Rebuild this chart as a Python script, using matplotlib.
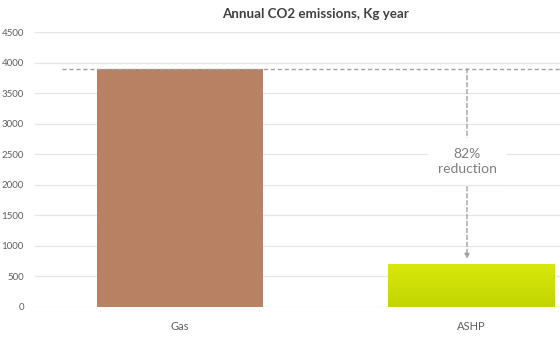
import matplotlib
matplotlib.use("Agg")
import matplotlib.pyplot as plt
from matplotlib.colors import LinearSegmentedColormap
import numpy as np

plt.rcParams['font.family'] = ['Lato', 'DejaVu Sans']

categories = ["Gas", "ASHP"]
emissions = [3900, 700]
reduction_label = "82%\nreduction"
yticks = [0, 500, 1000, 1500, 2000, 2500, 3000, 3500, 4000, 4500]

fig = plt.figure(figsize=(5.6, 3.37), dpi=100)
ax = fig.add_axes([35 / 560, 30 / 337, 525 / 560, 275 / 337])

x = np.arange(len(categories))
bars = ax.bar(x, emissions, width=0.57, color=["#b98163", "#cde000"], zorder=2)

# vertical gradient on the ASHP bar
grad = np.linspace(0, 1, 100).reshape(-1, 1)
cmap = LinearSegmentedColormap.from_list("g", ["#c3d500", "#d6e80c"])
b = bars[1]
im = ax.imshow(grad, cmap=cmap, origin="lower", aspect="auto",
               extent=[b.get_x(), b.get_x() + b.get_width(), 0, b.get_height()],
               zorder=3)
im.set_clip_path(b)

ax.set_xlim(-0.497, 1.304)
ax.set_ylim(0, 4500)
ax.set_yticks(yticks)
ax.set_xticks(x)
ax.set_xticklabels(categories)
ax.grid(axis="y", color="#e6e6e6", linewidth=0.9, zorder=0)
ax.set_axisbelow(True)
for s in ax.spines.values():
    s.set_visible(False)
ax.tick_params(axis="y", length=0, pad=8, labelsize=7, labelcolor="#606060")
ax.tick_params(axis="x", length=0, pad=10, labelsize=8, labelcolor="#606060")

# reference line at Gas level
ax.plot([-0.405, 1.304], [emissions[0], emissions[0]], ls=(0, (3, 2)),
        color="#a0a0a0", lw=1, zorder=4, clip_on=False)

# reduction arrow
ax_x = 0.985
ax.annotate("", xy=(ax_x, emissions[1] + 90), xytext=(ax_x, emissions[0]),
            arrowprops=dict(arrowstyle="-|>", ls=(0, (3, 2)), color="#a0a0a0",
                            lw=1, mutation_scale=7, shrinkA=0, shrinkB=0),
            zorder=4)
ax.text(ax_x, 2380, reduction_label, ha="center", va="center", fontsize=10,
        color="#7f7f7f", linespacing=1.3, zorder=5,
        bbox=dict(facecolor="white", edgecolor="none", pad=7))

fig.text(0.563, 0.958, "Annual CO2 emissions, Kg year", ha="center", va="center",
         fontsize=9.6, fontweight="bold", color="#404040")

fig.savefig("out.png", dpi=100)
